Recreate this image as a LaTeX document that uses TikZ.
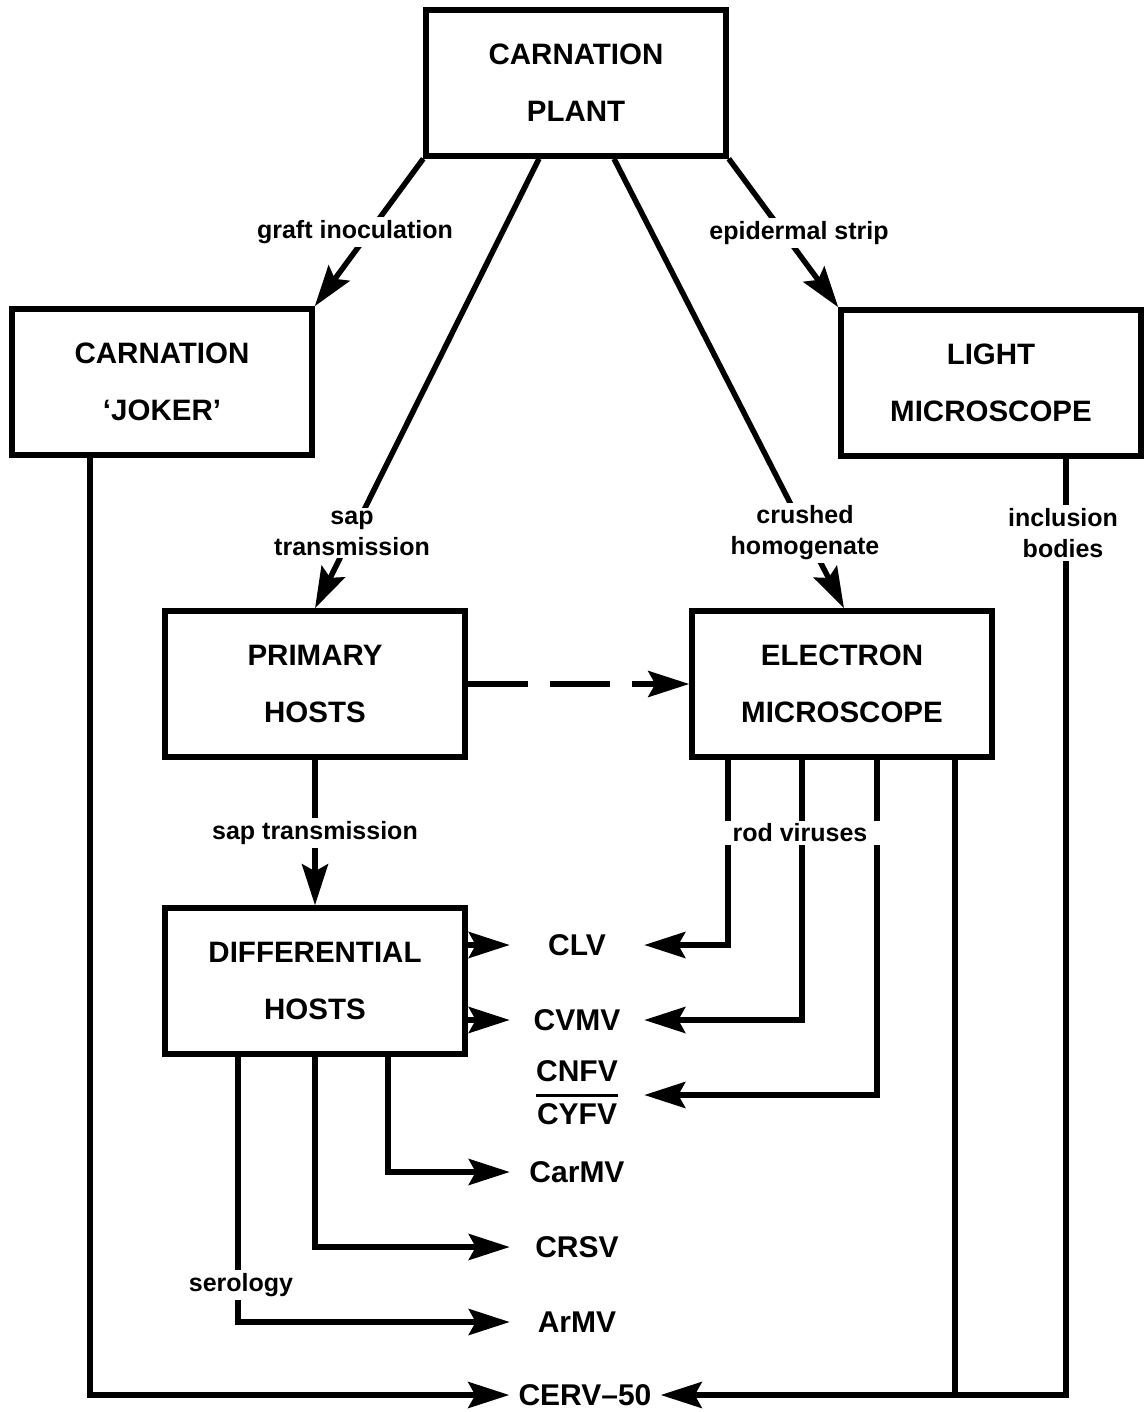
\documentclass[tikz,border=0pt]{standalone}
\usepackage{fontspec}
\setmainfont{Liberation Sans}
\usetikzlibrary{arrows.meta}
\setlength\arrayrulewidth{3pt}

\begin{document}
\begin{tikzpicture}[x=1pt,y=-1pt,line width=5.5pt,
  box/.style={draw,minimum width=300pt,minimum height=146pt,align=center,
    font=\bfseries\fontsize{29.5}{57}\selectfont},
  lbl/.style={fill=white,inner sep=3pt,align=center,
    font=\bfseries\fontsize{25}{31}\selectfont},
  virus/.style={minimum width=129pt,inner sep=0pt,
    font=\bfseries\fontsize{30}{40}\selectfont},
  arr/.style={-{Stealth[length=41pt,width=26pt,inset=7pt]}}]
  \useasboundingbox (0,0) rectangle (1144,1412);
  % boxes
  \node[box] (plant) at (576,83) {CARNATION\\PLANT};
  \node[box] (joker) at (162,382) {CARNATION\\`JOKER'};
  \node[box] (light) at (991,383) {LIGHT\\MICROSCOPE};
  \node[box] (primary) at (315,684) {PRIMARY\\HOSTS};
  \node[box] (em) at (842,684) {ELECTRON\\MICROSCOPE};
  \node[box] (diff) at (315,981) {DIFFERENTIAL\\HOSTS};
  % viruses
  \node[virus] (clv) at (577,945) {CLV};
  \node[virus] (cvmv) at (577,1020) {CVMV};
  \node[virus] (cnfv) at (577,1095) {\begin{tabular}{@{}c@{}}CNFV\\\hline CYFV\end{tabular}};
  \node[virus] (carmv) at (577,1172) {CarMV};
  \node[virus] (crsv) at (577,1247) {CRSV};
  \node[virus] (armv) at (577,1322) {ArMV};
  \node[virus,minimum width=146pt] (cerv) at (585,1395) {CERV–50};
  % from the plant
  \draw[arr] (plant.south west) -- (joker.north east);
  \draw[arr] (plant.south east) -- (light.north west);
  \draw[arr] ([xshift=-37pt]plant.south) -- (primary.north);
  \draw[arr] ([xshift=38pt]plant.south) -- ([xshift=2pt]em.north);
  \draw[arr,dash pattern=on 60pt off 22pt] (primary.east) -- (em.west);
  \draw[arr] (primary) -- (diff);
  % rod viruses
  \draw[arr] ([xshift=-114pt]em.south) |- (clv.east);
  \draw[arr] ([xshift=-40pt]em.south) |- (cvmv.east);
  \draw[arr] ([xshift=35pt]em.south) |- (cnfv.east);
  % differential hosts
  \draw[arr] (diff.east |- clv) -- (clv.west);
  \draw[arr] (diff.east |- cvmv) -- (cvmv.west);
  \draw[arr] ([xshift=73pt]diff.south) |- (carmv.west);
  \draw[arr] (diff.south) |- (crsv.west);
  \draw[arr] ([xshift=-77pt]diff.south) |- (armv.west);
  % CERV-50
  \draw[arr] ([xshift=-72pt]joker.south) |- (cerv.west);
  \draw[arr] ([xshift=75pt]light.south) |- (cerv.east);
  \draw[shorten >=45pt] ([xshift=113pt]em.south) |- (cerv.east);
  % labels
  \node[lbl] (graft) at (355,232) {graft inoculation};
  \node[lbl] (strip) at (799,233) {epidermal strip};
  \node[lbl] (sap1) at (352,533) {sap\\transmission};
  \node[lbl] (crushed) at (805,533) {crushed\\homogenate};
  \node[lbl] (bodies) at (1063,533) {inclusion\\bodies};
  \node[lbl] (sap2) at (315,833) {sap transmission};
  \node[lbl,inner xsep=14pt] (rods) at (800,833) {rod viruses};
  \node[lbl] (serology) at (241,1285) {serology};
\end{tikzpicture}
\end{document}
